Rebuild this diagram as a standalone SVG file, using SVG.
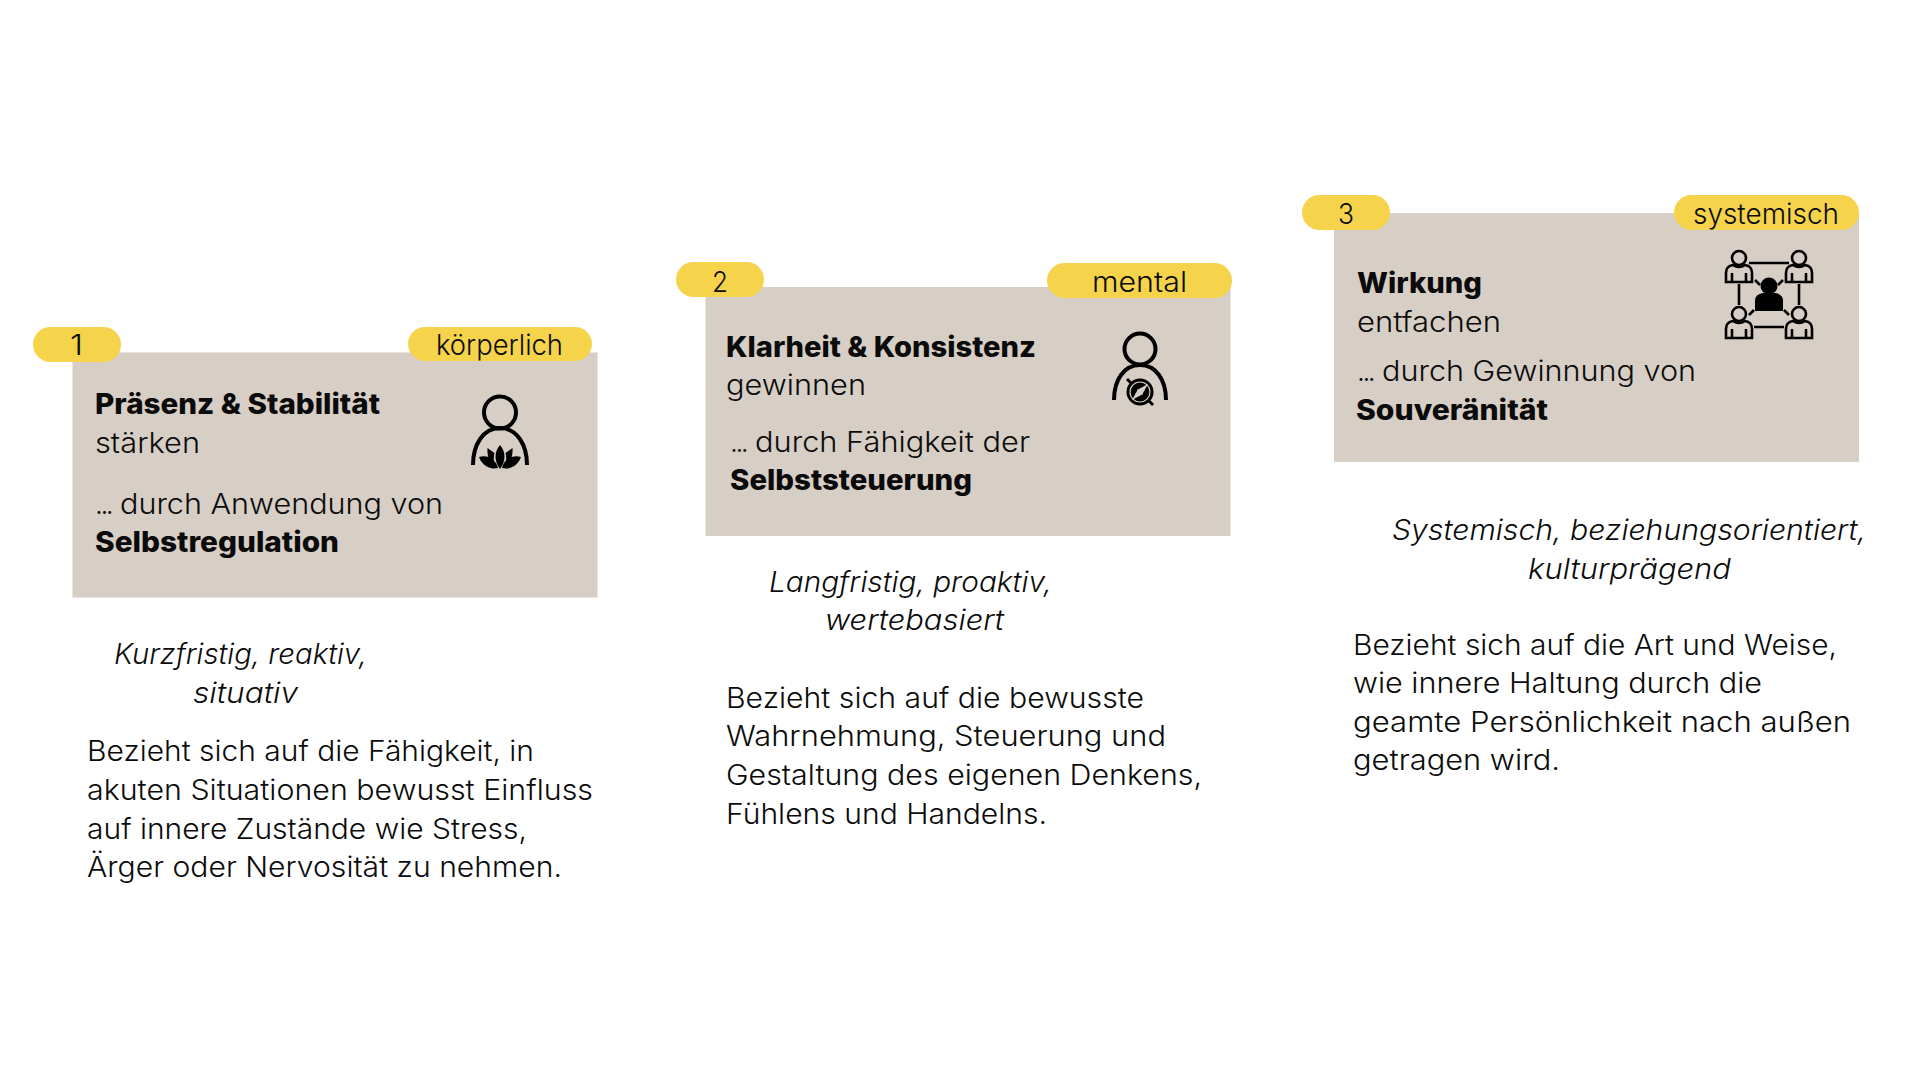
<svg xmlns="http://www.w3.org/2000/svg" width="1920" height="1080" viewBox="0 0 1920 1080">
<style>
text{font-family:"Inter","Noto Sans","Liberation Sans",sans-serif;font-size:28px;fill:#0b0b0b;font-weight:300}
.b{font-weight:800}
.i{font-style:italic;font-weight:300}
.c{fill:#d7cec5}
.p{fill:#f5d34a}
.s{fill:none;stroke:#000;stroke-width:4}
.t{fill:none;stroke:#000;stroke-width:2.6}
.d{letter-spacing:-2.5px}
</style>
<defs>
<g id="person"><circle cx="0" cy="0" r="7" class="t"/><path d="M-13 24V15Q-13 8-6 7Q0 11 6 7Q13 8 13 15V24ZM-7 24V15M7 24V15" class="t"/></g>
</defs>
<rect width="1920" height="1080" fill="#fff"/>
<g id="node-1">
<rect class="c" x="72.5" y="352.5" width="525" height="245"/>
<rect class="p" x="33" y="327" width="88" height="35" rx="17.5"/>
<rect class="p" x="408" y="327" width="184" height="34" rx="17"/>
<text x="70" y="355" textLength="13" lengthAdjust="spacingAndGlyphs">1</text>
<text x="436" y="355" textLength="127" lengthAdjust="spacingAndGlyphs">körperlich</text>
<text class="b" x="95" y="414" textLength="285" lengthAdjust="spacingAndGlyphs">Präsenz &amp; Stabilität</text>
<text x="95" y="452.5" textLength="105" lengthAdjust="spacingAndGlyphs">stärken</text>
<text y="514"><tspan class="d" x="95">...</tspan> <tspan x="120" textLength="323" lengthAdjust="spacingAndGlyphs">durch Anwendung von</tspan></text>
<text class="b" x="95" y="552" textLength="244" lengthAdjust="spacingAndGlyphs">Selbstregulation</text>
<text class="i" x="114" y="663.5" textLength="253" lengthAdjust="spacingAndGlyphs">Kurzfristig, reaktiv,</text>
<text class="i" x="193" y="702.5" textLength="105" lengthAdjust="spacingAndGlyphs">situativ</text>
<text x="87" y="761" textLength="447" lengthAdjust="spacingAndGlyphs">Bezieht sich auf die Fähigkeit, in</text>
<text x="87" y="799.5" textLength="506" lengthAdjust="spacingAndGlyphs">akuten Situationen bewusst Einfluss</text>
<text x="87" y="838.5" textLength="440" lengthAdjust="spacingAndGlyphs">auf innere Zustände wie Stress,</text>
<text x="87" y="877" textLength="475" lengthAdjust="spacingAndGlyphs">Ärger oder Nervosität zu nehmen.</text>
<g id="icon-1">
<circle class="s" cx="500" cy="412.5" r="16"/>
<path class="s" d="M473 465C473 445 483 428 500 428C517 428 527 445 527 465"/>
<path d="M500 445C506 452 506 461 500 469C494 461 494 452 500 445ZM487.500 448L494.500 453C493 459 494 463 496 467C489 462 487 456 487.500 448ZM512.500 448L505.500 453C507 459 506 463 504 467C511 462 513 456 512.500 448ZM479 457C487 454 496 459 498 468C489 470 482 465 479 457ZM521 457C513 454 504 459 502 468C511 470 518 465 521 457Z"/>
</g>
</g>
<g id="node-2">
<rect class="c" x="705.500" y="287" width="525" height="249"/>
<rect class="p" x="676" y="262" width="88" height="35" rx="17.5"/>
<rect class="p" x="1047" y="263" width="185" height="35" rx="17.5"/>
<text x="712" y="291.500" textLength="16" lengthAdjust="spacingAndGlyphs">2</text>
<text x="1092" y="292" textLength="95" lengthAdjust="spacingAndGlyphs">mental</text>
<text class="b" x="726" y="357" textLength="310" lengthAdjust="spacingAndGlyphs">Klarheit &amp; Konsistenz</text>
<text x="726" y="395" textLength="140" lengthAdjust="spacingAndGlyphs">gewinnen</text>
<text y="452"><tspan class="d" x="730">...</tspan> <tspan x="755" textLength="275" lengthAdjust="spacingAndGlyphs">durch Fähigkeit der</tspan></text>
<text class="b" x="730" y="490" textLength="242" lengthAdjust="spacingAndGlyphs">Selbststeuerung</text>
<text class="i" x="769" y="591.500" textLength="283" lengthAdjust="spacingAndGlyphs">Langfristig, proaktiv,</text>
<text class="i" x="825" y="630" textLength="179" lengthAdjust="spacingAndGlyphs">wertebasiert</text>
<text x="726" y="707.500" textLength="418" lengthAdjust="spacingAndGlyphs">Bezieht sich auf die bewusste</text>
<text x="726" y="746" textLength="440" lengthAdjust="spacingAndGlyphs">Wahrnehmung, Steuerung und</text>
<text x="726" y="784.500" textLength="476" lengthAdjust="spacingAndGlyphs">Gestaltung des eigenen Denkens,</text>
<text x="726" y="823.500" textLength="321" lengthAdjust="spacingAndGlyphs">Fühlens und Handelns.</text>
<g id="icon-2">
<circle class="s" cx="1140" cy="349" r="15.5"/>
<path class="s" d="M1114 400C1114 380 1124 365 1140 365C1156 365 1166 380 1166 400"/>
<circle cx="1140" cy="392" r="13.500"/>
<path d="M1127 379L1153 405" stroke="#000" stroke-width="3" fill="none"/>
<circle cx="1140" cy="392" r="10" fill="none" stroke="#d7cec5" stroke-width="1.200"/>
<path d="M1148 384L1142 395L1137 390Z" fill="#d7cec5"/>
<path d="M1132 400L1138 389L1143 394Z" fill="#d7cec5"/>
</g>
</g>
<g id="node-3">
<rect class="c" x="1334" y="213" width="525" height="249"/>
<rect class="p" x="1302" y="195" width="88" height="35" rx="17.5"/>
<rect class="p" x="1674" y="195" width="185" height="35" rx="17.5"/>
<text x="1338" y="224" textLength="16" lengthAdjust="spacingAndGlyphs">3</text>
<text x="1693" y="224" textLength="146" lengthAdjust="spacingAndGlyphs">systemisch</text>
<text class="b" x="1357" y="293" textLength="125" lengthAdjust="spacingAndGlyphs">Wirkung</text>
<text x="1357" y="331.500" textLength="144" lengthAdjust="spacingAndGlyphs">entfachen</text>
<text y="380.500"><tspan class="d" x="1357">...</tspan> <tspan x="1382" textLength="314" lengthAdjust="spacingAndGlyphs">durch Gewinnung von</tspan></text>
<text class="b" x="1356" y="419.500" textLength="192" lengthAdjust="spacingAndGlyphs">Souveränität</text>
<text class="i" x="1392" y="540" textLength="474" lengthAdjust="spacingAndGlyphs">Systemisch, beziehungsorientiert,</text>
<text class="i" x="1528" y="579" textLength="203" lengthAdjust="spacingAndGlyphs">kulturprägend</text>
<text x="1353" y="654.500" textLength="484" lengthAdjust="spacingAndGlyphs">Bezieht sich auf die Art und Weise,</text>
<text x="1353" y="693" textLength="409" lengthAdjust="spacingAndGlyphs">wie innere Haltung durch die</text>
<text x="1353" y="732" textLength="498" lengthAdjust="spacingAndGlyphs">geamte Persönlichkeit nach außen</text>
<text x="1353" y="770" textLength="207" lengthAdjust="spacingAndGlyphs">getragen wird.</text>
<g id="icon-3">
<use href="#person" x="1739" y="258"/>
<use href="#person" x="1799" y="258"/>
<use href="#person" x="1739" y="314"/>
<use href="#person" x="1799" y="314"/>
<circle cx="1769" cy="286" r="8.500"/>
<path d="M1755 311V301Q1755 294 1763 293H1775Q1783 294 1783 301V311Z"/>
<path class="t" d="M1749 263H1789M1739 284V305M1799 284V305M1754 327H1784M1755 280L1760 285M1783 280L1778 285M1749 315L1754 310M1789 315L1784 310"/>
</g>
</g>
</svg>
